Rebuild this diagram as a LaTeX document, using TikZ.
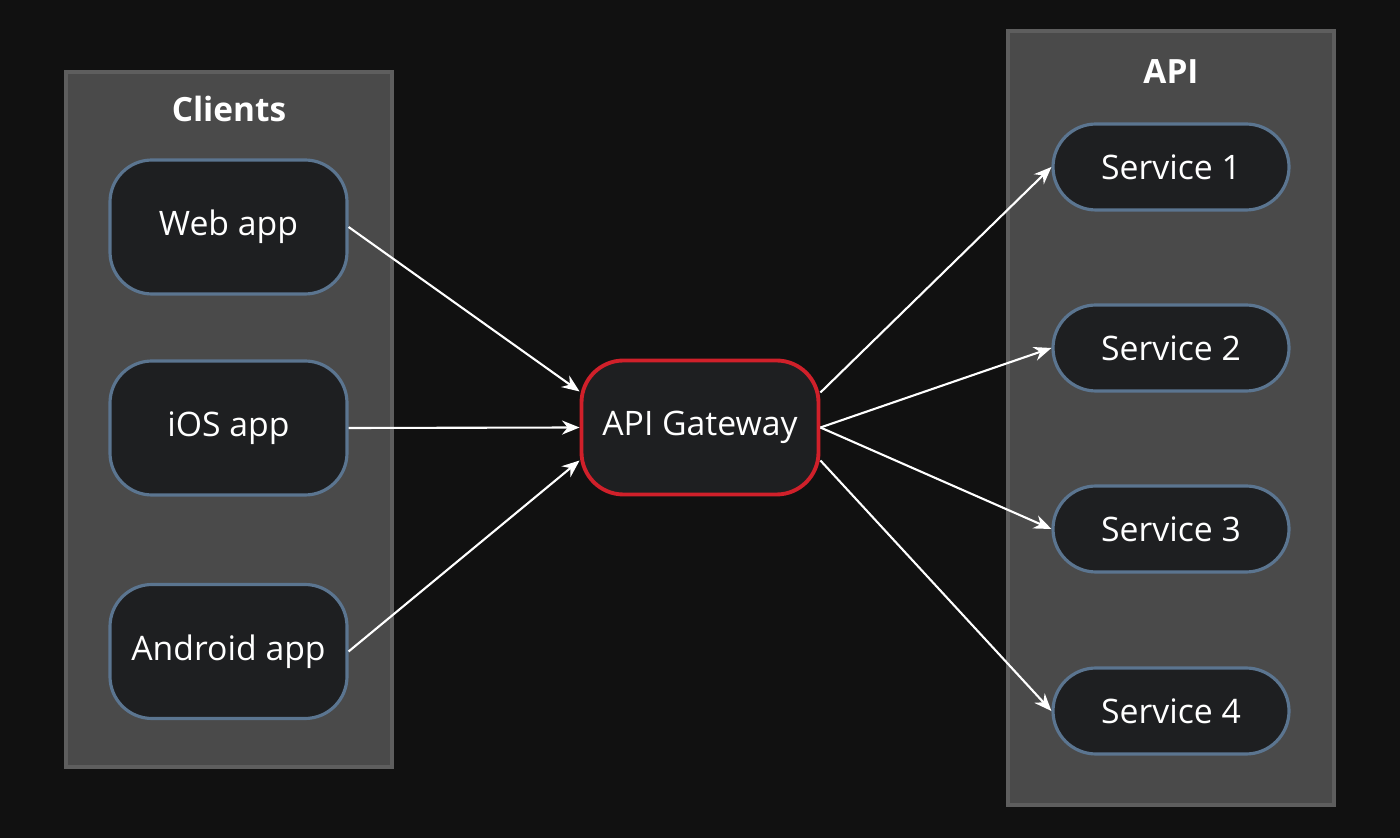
\documentclass[tikz,border=0pt]{standalone}
\usepackage{fontspec}
\setmainfont{Open Sans}
\usetikzlibrary{positioning}
\usetikzlibrary{arrows.meta}
\definecolor{bgdark}{HTML}{111111}
\definecolor{panelfill}{HTML}{4A4A4A}
\definecolor{panelline}{HTML}{5E5E5E}
\definecolor{boxfill}{HTML}{1E1F21}
\definecolor{boxline}{HTML}{5B7590}
\definecolor{gwline}{HTML}{D0202A}

\begin{document}
\begin{tikzpicture}[
  panel/.style={fill=panelfill, draw=panelline, line width=1.2pt},
  client/.style={fill=boxfill, draw=boxline, line width=0.9pt, rounded corners=0.42cm,
    minimum width=2.37cm, minimum height=1.34cm, text=white, font=\fontsize{9.6}{11}\selectfont},
  service/.style={fill=boxfill, draw=boxline, line width=0.9pt, rounded corners=0.43cm,
    minimum width=2.36cm, minimum height=0.86cm, text=white, font=\fontsize{9.6}{11}\selectfont},
  title/.style={text=white, font=\bfseries\fontsize{9.5}{11}\selectfont},
  link/.style={white, line width=0.6pt, -{Stealth[length=5pt,width=4pt]}}
]

\fill[bgdark] (0,0) rectangle (14,-8.38);
\useasboundingbox (0,0) rectangle (14,-8.38);

%panels
\draw[panel] (0.66,-0.72) rectangle (3.92,-7.67);
\draw[panel] (10.08,-0.31) rectangle (13.34,-8.05);
\node[title] (clients) at (2.29,-1.09) {Clients};
\node[title] (api) at (11.71,-0.72) {API};

%clients
\node[client] (web) at (2.285,-2.27) {Web app};
\node[client] (ios) at (2.285,-4.28) {iOS app};
\node[client] (android) at (2.285,-6.515) {Android app};

%gateway
\node[client, draw=gwline, line width=1.1pt] (gw) at (7.0,-4.275) {API Gateway};

%services
\node[service] (s1) at (11.71,-1.67) {Service 1};
\node[service] (s2) at (11.71,-3.48) {Service 2};
\node[service] (s3) at (11.71,-5.29) {Service 3};
\node[service] (s4) at (11.71,-7.11) {Service 4};

%arrows
\draw[link] (web.east) -- ([yshift=0.36cm]gw.west);
\draw[link] (ios.east) -- (gw.west);
\draw[link] (android.east) -- ([yshift=-0.33cm]gw.west);

\draw[link] ([yshift=0.35cm]gw.east) -- (s1.west);
\draw[link] (gw.east) -- (s2.west);
\draw[link] (gw.east) -- (s3.west);
\draw[link] ([yshift=-0.33cm]gw.east) -- (s4.west);

\end{tikzpicture}
\end{document}
